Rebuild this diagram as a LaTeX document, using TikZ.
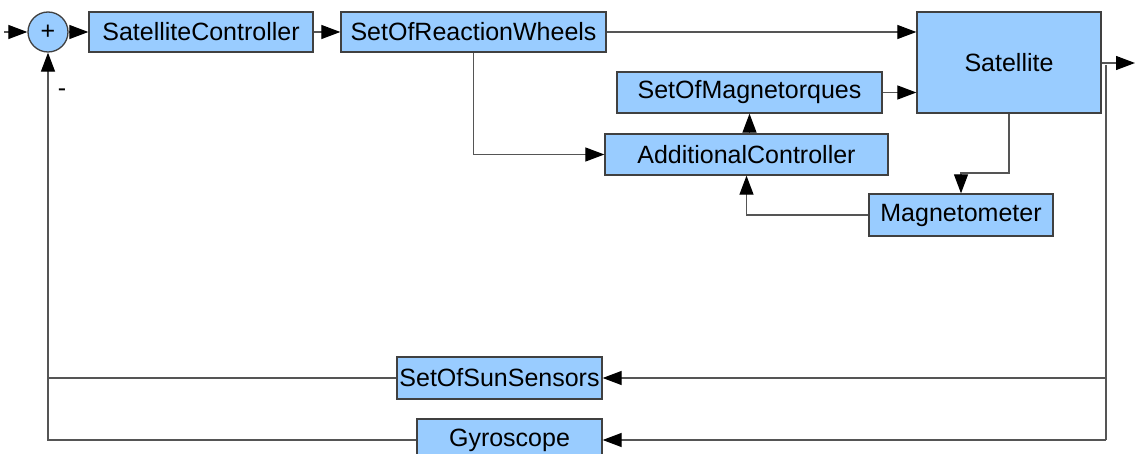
\documentclass[tikz,border=0pt]{standalone}
\usepackage{fontspec}
\setmainfont{Liberation Sans}
\usetikzlibrary{arrows.meta}
\definecolor{fillc}{HTML}{99CCFF}
\definecolor{bordc}{HTML}{404040}
\definecolor{linec}{HTML}{555555}
\tikzset{
  blk/.style={draw=bordc, fill=fillc, line width=1.3pt, inner sep=0pt,
    font=\fontsize{25}{30}\selectfont, text=black},
  conn/.style={draw=linec, line width=1.2pt},
  arr/.style={conn, -{Triangle[length=19pt,width=14pt,color=black]}},
}
\begin{document}
\begin{tikzpicture}[x=1pt,y=-1pt]
\useasboundingbox (0,0) rectangle (1135,454);
\node[blk, circle, minimum size=40pt] (sum) at (48,32) {+};
\node[blk, minimum width=224pt, minimum height=40pt] (sc) at (201,32) {SatelliteController};
\node[blk, minimum width=265pt, minimum height=40pt] (sorw) at (473.5,32) {SetOfReactionWheels};
\node[blk, minimum width=184pt, minimum height=101pt] (sat) at (1009,62.5) {Satellite};
\node[blk, minimum width=265pt, minimum height=41pt] (som) at (749.5,92.5) {SetOfMagnetorques};
\node[blk, minimum width=283pt, minimum height=41pt] (ac) at (746.5,154.5) {AdditionalController};
\node[blk, minimum width=184pt, minimum height=42pt] (mag) at (961,215) {Magnetometer};
\node[blk, minimum width=205pt, minimum height=42pt] (soss) at (499.5,378) {SetOfSunSensors};
\node[blk, minimum width=185pt, minimum height=42pt] (gyro) at (509.5,440) {Gyroscope};
\node[font=\fontsize{25}{30}\selectfont] (minus) at (62,93) {-};
\coordinate (in) at (4,32);
\coordinate (out) at (1135,63);
\coordinate (mk) at (961,173);
\coordinate (fbtop) at (1106,65);
\coordinate (fbbot) at (1106,440);
% forward path
\draw[arr] (in) -- (sum.west);
\draw[arr] (sum.east) -- (sc.west);
\draw[arr] (sc.east) -- (sorw.west);
\draw[arr] (sorw.east) -- (sorw.east -| sat.west);
\draw[arr] (som.east) -- (som.east -| sat.west);
\draw[arr] (sorw.south) |- (ac.west);
\draw[arr] (som.south |- ac.north) -- (som.south);
\draw[arr] (sat.south) |- (mk) -- (mag.north);
\draw[arr] (mag.west) -| (ac.south);
\draw[arr] (sat.east |- out) -- (out);
% feedback
\draw[conn] (fbtop) -- (fbbot);
\draw[arr] (fbbot) -- (gyro.east);
\draw[arr] (fbtop |- soss.east) -- (soss.east);
\draw[conn] (soss.west) -- (soss.west -| sum.south);
\draw[arr] (gyro.west) -| (sum.south);
\end{tikzpicture}
\end{document}
